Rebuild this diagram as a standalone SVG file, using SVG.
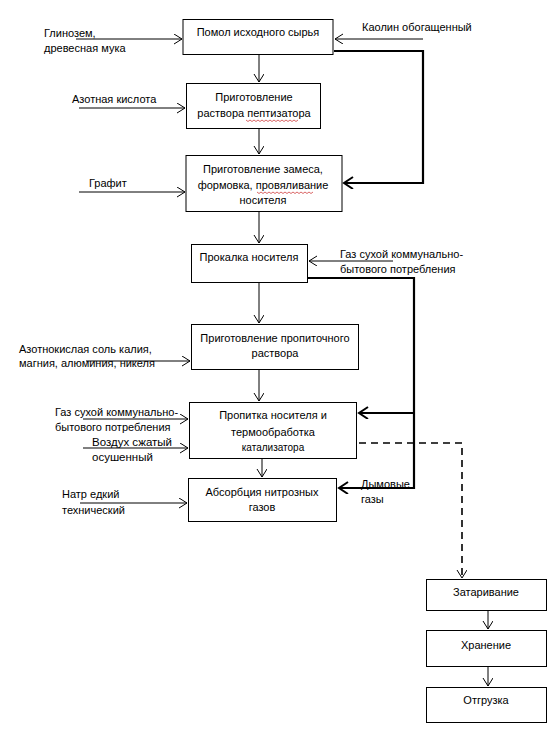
<svg xmlns="http://www.w3.org/2000/svg" width="556" height="734" viewBox="0 0 556 734">
<defs>
<style>
text{font-family:"Liberation Sans",Arial,sans-serif;font-size:11px;fill:#000}
.c{text-anchor:middle}
.box{fill:#fff;stroke:#000;stroke-width:1}
.thin{fill:none;stroke:#000;stroke-width:1}
.thick{fill:none;stroke:#000;stroke-width:2.2}
.dash{fill:none;stroke:#000;stroke-width:1.6;stroke-dasharray:7,5}
.squig{fill:none;stroke:#d04040;stroke-width:0.8}
</style>
<marker id="a" markerUnits="userSpaceOnUse" markerWidth="12" markerHeight="12" refX="9" refY="5" orient="auto">
<path d="M1,0 L9,5 L1,10" fill="none" stroke="#000" stroke-width="1"/>
</marker>
<marker id="at" markerUnits="userSpaceOnUse" markerWidth="14" markerHeight="14" refX="10" refY="6" orient="auto">
<path d="M1,0 L10,6 L1,12" fill="none" stroke="#000" stroke-width="2"/>
</marker>
</defs>
<rect width="556" height="734" fill="#fff"/>

<g id="connectors">
<line class="thin" x1="76" y1="39" x2="182" y2="39" marker-end="url(#a)"/>
<line class="thin" x1="79" y1="108" x2="185" y2="108" stroke="#555" marker-end="url(#a)"/>
<line class="thin" x1="79" y1="192" x2="185" y2="192" marker-end="url(#a)"/>
<line class="thin" x1="86" y1="361" x2="190" y2="361" marker-end="url(#a)"/>
<line class="thin" x1="83" y1="419" x2="188" y2="419" marker-end="url(#a)"/>
<line class="thin" x1="83" y1="448" x2="188" y2="448" marker-end="url(#a)"/>
<line class="thin" x1="80" y1="503" x2="187" y2="503" marker-end="url(#a)"/>
<line class="thin" x1="423" y1="39" x2="335" y2="39" marker-end="url(#a)"/>
<line class="thin" x1="393" y1="261" x2="309" y2="261" marker-end="url(#a)"/>
<line class="thin" x1="259" y1="54" x2="259" y2="82" marker-end="url(#a)"/>
<line class="thin" x1="259" y1="128" x2="259" y2="154" marker-end="url(#a)"/>
<line class="thin" x1="259" y1="211" x2="259" y2="243" marker-end="url(#a)"/>
<line class="thin" x1="259" y1="282" x2="259" y2="323" marker-end="url(#a)"/>
<line class="thin" x1="259" y1="369" x2="259" y2="401" marker-end="url(#a)"/>
<line class="thin" x1="262" y1="458" x2="262" y2="477" marker-end="url(#a)"/>
<polyline class="thick" points="334,51 423,51 423,183 344,183" marker-end="url(#at)"/>
<polyline class="thick" points="308,278 414,278 414,488 339,488" marker-end="url(#at)"/>
<line class="thick" x1="414" y1="413" x2="359" y2="413" marker-end="url(#at)"/>
<polyline class="dash" points="359,443 462,443 462,578" marker-end="url(#a)"/>
<line class="thin" x1="488" y1="610" x2="488" y2="629" marker-end="url(#a)"/>
<line class="thin" x1="488" y1="666" x2="488" y2="686" marker-end="url(#a)"/>
</g>

<g id="n1">
<rect class="box" x="183" y="19.5" width="150" height="35"/>
<text class="c" x="258" y="36">Помол исходного сырья</text>
</g>
<g id="n2">
<rect class="box" x="186.5" y="83.5" width="134" height="45"/>
<text class="c" x="254" y="101">Приготовление</text>
<text class="c" x="254" y="117">раствора пептизатора</text>
<path class="squig" d="M246,120 l2,1.5 l2,-1.5 l2,1.5 l2,-1.5 l2,1.5 l2,-1.5 l2,1.5 l2,-1.5 l2,1.5 l2,-1.5 l2,1.5 l2,-1.5 l2,1.5 l2,-1.5 l2,1.5 l2,-1.5 l2,1.5 l2,-1.5 l2,1.5 l2,-1.5 l2,1.5 l2,-1.5 l2,1.5 l2,-1.5 l2,1.5 l2,-1.5"/>
</g>
<g id="n3">
<rect class="box" x="186" y="155.5" width="156" height="56"/>
<text class="c" x="263" y="173">Приготовление замеса,</text>
<text class="c" x="263" y="189">формовка, провяливание</text>
<text class="c" x="263" y="204">носителя</text>
<path class="squig" d="M257,192 l2,1.5 l2,-1.5 l2,1.5 l2,-1.5 l2,1.5 l2,-1.5 l2,1.5 l2,-1.5 l2,1.5 l2,-1.5 l2,1.5 l2,-1.5 l2,1.5 l2,-1.5 l2,1.5 l2,-1.5 l2,1.5 l2,-1.5 l2,1.5 l2,-1.5 l2,1.5 l2,-1.5 l2,1.5 l2,-1.5 l2,1.5 l2,-1.5 l2,1.5 l2,-1.5"/>
</g>
<g id="n4">
<rect class="box" x="191.5" y="244.5" width="116" height="38"/>
<text class="c" x="249" y="261">Прокалка носителя</text>
</g>
<g id="n5">
<rect class="box" x="191.5" y="324.5" width="167" height="45"/>
<text class="c" x="275" y="342">Приготовление пропиточного</text>
<text class="c" x="275" y="357">раствора</text>
</g>
<g id="n6">
<rect class="box" x="189.5" y="402.5" width="167" height="56"/>
<text class="c" x="273" y="419">Пропитка носителя и</text>
<text class="c" x="273" y="436">термообработка</text>
<text class="c" x="273" y="451" style="font-size:10px">катализатора</text>
</g>
<g id="n7">
<rect class="box" x="188.5" y="478.5" width="148" height="43"/>
<text class="c" x="262" y="496">Абсорбция нитрозных</text>
<text class="c" x="262" y="511">газов</text>
</g>
<g id="n8">
<rect class="box" x="426.5" y="579.5" width="120" height="31"/>
<text class="c" x="486" y="596">Затаривание</text>
</g>
<g id="n9">
<rect class="box" x="426.5" y="630.5" width="120" height="36"/>
<text class="c" x="486" y="649">Хранение</text>
</g>
<g id="n10">
<rect class="box" x="426.5" y="687.5" width="120" height="35"/>
<text class="c" x="486" y="704">Отгрузка</text>
</g>

<g id="labels">
<text x="44" y="37">Глинозем,</text>
<text x="44" y="52">древесная мука</text>
<text x="72" y="103">Азотная кислота</text>
<text x="89" y="187">Графит</text>
<text x="19" y="353">Азотнокислая соль калия,</text>
<text x="19" y="367">магния, алюминия, никеля</text>
<text x="55" y="416">Газ сухой коммунально-</text>
<text x="55" y="431">бытового потребления</text>
<text x="92" y="446" style="font-size:11.5px">Воздух сжатый</text>
<text x="92" y="461" style="font-size:11.5px">осушенный</text>
<text x="62" y="498">Натр едкий</text>
<text x="62" y="514">технический</text>
<text x="362" y="31">Каолин обогащенный</text>
<text x="340" y="258">Газ сухой коммунально-</text>
<text x="340" y="273">бытового потребления</text>
<text x="361" y="488">Дымовые</text>
<text x="361" y="503">газы</text>
</g>
</svg>
